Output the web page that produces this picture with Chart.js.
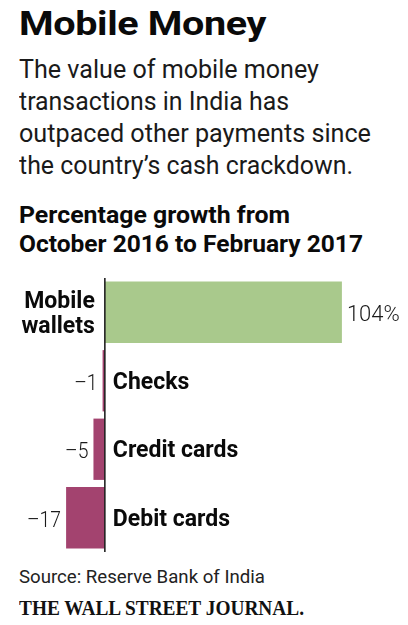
<!DOCTYPE html>
<html>
<head>
<meta charset="utf-8">
<script src="https://cdn.jsdelivr.net/npm/chart.js@4"></script>
<style>
  html, body { margin: 0; padding: 0; background: #fff; }
  body { width: 408px; height: 625px; position: relative; overflow: hidden; font-family: Roboto, "Noto Sans", sans-serif; color: #111; }
  .ln { position: absolute; left: 19px; white-space: nowrap; line-height: 1; transform-origin: 0 0; }
  .title { font-weight: 700; font-size: 33px; color: #0a0a0a; letter-spacing: -0.3px; }
  .sub { font-weight: 400; font-size: 25px; color: #1a1a1a; }
  .head { font-weight: 700; font-size: 23px; color: #0a0a0a; }
  .src { font-weight: 400; font-size: 18px; color: #222; }
  .wsj { font-family: "Liberation Serif", "DejaVu Serif", serif; font-weight: 700; font-size: 20px; color: #111; }
  #wrap { position: absolute; left: 0; top: 278px; width: 408px; height: 274px; }
</style>
</head>
<body>
<div class="ln title" data-b="35" data-w="247">Mobile Money</div>
<div class="ln sub" data-b="78" data-w="300">The value of mobile money</div>
<div class="ln sub" data-b="110" data-w="270">transactions in India has</div>
<div class="ln sub" data-b="142" data-w="352">outpaced other payments since</div>
<div class="ln sub" data-b="174" data-w="334">the country’s cash crackdown.</div>
<div class="ln head" data-b="223" data-w="271">Percentage growth from</div>
<div class="ln head" data-b="252" data-w="344">October 2016 to February 2017</div>
<div class="ln src" data-b="583" data-w="246">Source: Reserve Bank of India</div>
<div class="ln wsj" data-b="615" data-w="285">THE WALL STREET JOURNAL.</div>
<div id="wrap"><canvas id="c"></canvas></div>
<script>
// ---- data ----
const categories = [["Mobile", "wallets"], ["Checks"], ["Credit cards"], ["Debit cards"]];
const growth = [104, -1, -5, -17];
const valueLabels = ["104%", "–1", "–5", "–17"];

// ---- place header/footer text lines by baseline and fit widths ----
document.querySelectorAll('.ln').forEach(el => {
  const fs = parseFloat(getComputedStyle(el).fontSize);
  const off = el.classList.contains('wsj') ? 0.8375 : 0.842;
  el.style.top = (parseFloat(el.dataset.b) - off * fs) + 'px';
  const w = el.getBoundingClientRect().width;
  const target = parseFloat(el.dataset.w);
  if (w > 0 && target) el.style.transform = 'scaleX(' + (target / w).toFixed(4) + ')';
});

const GREEN = '#a9c98c';
const MAGENTA = '#a3436f';

const labelPlugin = {
  id: 'labels',
  afterDatasetsDraw(chart) {
    const ctx = chart.ctx;
    const xs = chart.scales.x, ys = chart.scales.y;
    const x0 = xs.getPixelForValue(0);
    // axis line
    ctx.save();
    ctx.strokeStyle = '#222';
    ctx.lineWidth = 1.6;
    ctx.beginPath();
    ctx.moveTo(x0, chart.chartArea.top);
    ctx.lineTo(x0, chart.chartArea.bottom + 1);
    ctx.stroke();
    growth.forEach((v, i) => {
      const cy = ys.getPixelForValue(i);
      const xe = xs.getPixelForValue(v);
      const lines = categories[i];
      // category labels
      ctx.font = '700 23px Roboto, "Noto Sans", sans-serif';
      ctx.fillStyle = '#0a0a0a';
      const first = cy + 8 - (lines.length - 1) * 12.5;
      lines.forEach((t, k) => {
        const y = first + k * 25;
        if (v >= 0) {
          ctx.textAlign = 'right';
          ctx.fillText(t, x0 - 10, y);
        } else {
          ctx.textAlign = 'left';
          ctx.fillText(t, x0 + 8, y);
        }
      });
      // value labels
      ctx.font = '300 22px Roboto, "Noto Sans", sans-serif';
      ctx.fillStyle = '#1a1a1a';
      ctx.save();
      if (v >= 0) {
        ctx.translate(xe + 5, cy + 9);
        ctx.textAlign = 'left';
      } else {
        ctx.translate(Math.min(xe, x0 - 2) - 5, cy + 9);
        ctx.scale(0.88, 1);
        ctx.textAlign = 'right';
      }
      ctx.fillText(valueLabels[i], 0, 0);
      ctx.restore();
    });
    ctx.restore();
  }
};

new Chart(document.getElementById('c'), {
  type: 'bar',
  data: {
    labels: categories.map(c => c.join(' ')),
    datasets: [{
      data: growth,
      backgroundColor: growth.map(v => v >= 0 ? GREEN : MAGENTA),
      borderWidth: 0,
      barPercentage: 0.895,
      categoryPercentage: 1
    }]
  },
  options: {
    indexAxis: 'y',
    responsive: true,
    maintainAspectRatio: false,
    animation: false,
    layout: { padding: 0 },
    plugins: { legend: { display: false }, tooltip: { enabled: false }, title: { display: false } },
    scales: {
      x: { display: false, min: -46, max: 133 },
      y: { display: false }
    }
  },
  plugins: [labelPlugin]
});
</script>
</body>
</html>
